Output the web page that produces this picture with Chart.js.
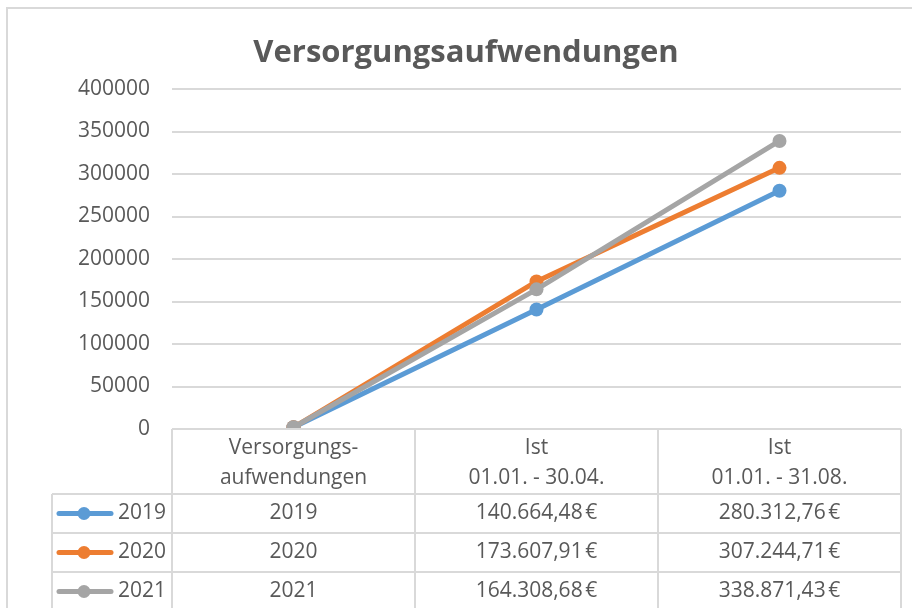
<!DOCTYPE html>
<html lang="de">
<head>
<meta charset="utf-8">
<title>Versorgungsaufwendungen</title>
<script src="https://cdn.jsdelivr.net/npm/chart.js@4.4.1/dist/chart.umd.min.js"></script>
<style>
  html, body { margin: 0; padding: 0; background: #fff; }
  #wrap { width: 912px; height: 608px; }
</style>
</head>
<body>
<div id="wrap"><canvas id="chart" width="912" height="608"></canvas></div>
<script>
(function () {
  'use strict';

  /* ---- data ---- */
  const TITLE = 'Versorgungsaufwendungen';
  const categories = [
    ['Versorgungs-', 'aufwendungen'],
    ['Ist', '01.01. - 30.04.'],
    ['Ist', '01.01. - 31.08.']
  ];
  const seriesNames = ['2019', '2020', '2021'];
  const values2019 = [2019, 140664.48, 280312.76];
  const values2020 = [2020, 173607.91, 307244.71];
  const values2021 = [2021, 164308.68, 338871.43];
  const yMin = 0, yMax = 400000, yStep = 50000;

  const COLORS = ['#5B9BD5', '#ED7D31', '#A5A5A5'];
  const TEXT = '#595959', GRID = '#d9d9d9';
  const FONT = '"Open Sans", "Noto Sans", sans-serif';

  // German number format, e.g. 140.664,48 €
  function euro(v) {
    const parts = v.toFixed(2).split('.');
    return parts[0].replace(/\B(?=(\d{3})+(?!\d))/g, '.') + ',' + parts[1] + '\u202f€';
  }
  const cellText = (v, col) => col === 0 ? String(v) : euro(v);

  const seriesValues = [values2019, values2020, values2021];

  // border, title and the data table under the plot
  const frame = {
    id: 'frame',
    beforeDraw(chart) {
      const ctx = chart.ctx;
      ctx.save();
      ctx.strokeStyle = GRID;
      ctx.lineWidth = 2;
      ctx.beginPath();
      ctx.moveTo(7, 608); ctx.lineTo(7, 8); ctx.lineTo(912, 8);
      ctx.stroke();
      ctx.fillStyle = TEXT;
      ctx.font = `bold 31px ${FONT}`;
      ctx.textAlign = 'center';
      ctx.textBaseline = 'middle';
      ctx.fillText(TITLE, 466, 53);
      ctx.restore();
    },
    afterDraw(chart) {
      const { ctx, chartArea: a, scales: { x } } = chart;
      const n = categories.length;
      const colW = a.width / n;
      const top = a.bottom, headH = 65, rowH = 39;
      const headBottom = top + headH;
      const legLeft = 52, bottom = chart.height;

      ctx.save();
      ctx.strokeStyle = GRID;
      ctx.lineWidth = 2;
      ctx.beginPath();
      for (let i = 0; i <= n; i++) {
        const px = Math.round(a.left + i * colW);
        ctx.moveTo(px, top); ctx.lineTo(px, bottom);
      }
      ctx.moveTo(legLeft, headBottom); ctx.lineTo(legLeft, bottom);
      ctx.moveTo(a.left, top); ctx.lineTo(a.right, top);
      for (let r = 0; r < seriesNames.length; r++) {
        const py = headBottom + r * rowH;
        ctx.moveTo(legLeft, py); ctx.lineTo(a.right, py);
      }
      ctx.stroke();

      ctx.fillStyle = TEXT;
      ctx.font = `21px ${FONT}`;
      ctx.textBaseline = 'middle';
      ctx.textAlign = 'center';
      categories.forEach((lines, i) => {
        const cx = x.getPixelForValue(i);
        lines.forEach((t, k) => ctx.fillText(t, cx, top + 19 + k * 30));
      });

      seriesNames.forEach((name, r) => {
        const cy = headBottom + rowH * (r + 0.5);
        seriesValues[r].forEach((v, i) => {
          ctx.textAlign = 'center';
          ctx.fillText(cellText(v, i), x.getPixelForValue(i), cy);
        });
        // legend key
        ctx.strokeStyle = COLORS[r];
        ctx.lineWidth = 5;
        ctx.lineCap = 'round';
        ctx.beginPath(); ctx.moveTo(59, cy); ctx.lineTo(111, cy); ctx.stroke();
        ctx.fillStyle = COLORS[r];
        ctx.beginPath(); ctx.arc(84, cy, 6.5, 0, Math.PI * 2); ctx.fill();
        ctx.fillStyle = TEXT;
        ctx.textAlign = 'right';
        ctx.fillText(name, a.left - 6, cy);
      });
      ctx.restore();
    }
  };

  new Chart(document.getElementById('chart'), {
    type: 'line',
    data: {
      labels: categories.map(c => c.join(' ')),
      datasets: seriesNames.map((name, i) => ({
        label: name,
        data: seriesValues[i],
        borderColor: COLORS[i],
        backgroundColor: COLORS[i],
        borderWidth: 5,
        pointRadius: 7,
        pointBorderWidth: 0,
        tension: 0,
        order: seriesNames.length - i
      }))
    },
    options: {
      responsive: false,
      animation: false,
      devicePixelRatio: 1,
      layout: { padding: { top: 89, right: 11, bottom: 179, left: 0 } },
      plugins: { legend: { display: false }, tooltip: { enabled: false }, title: { display: false } },
      scales: {
        x: { display: false, offset: true },
        y: {
          min: yMin, max: yMax,
          afterFit: s => { s.width = 172; },
          border: { display: false },
          grid: { color: GRID, lineWidth: 2, drawTicks: false },
          ticks: {
            stepSize: yStep, padding: 22, color: TEXT,
            font: { family: FONT, size: 21 },
            callback: v => String(v)
          }
        }
      }
    },
    plugins: [frame]
  });
})();
</script>
</body>
</html>
